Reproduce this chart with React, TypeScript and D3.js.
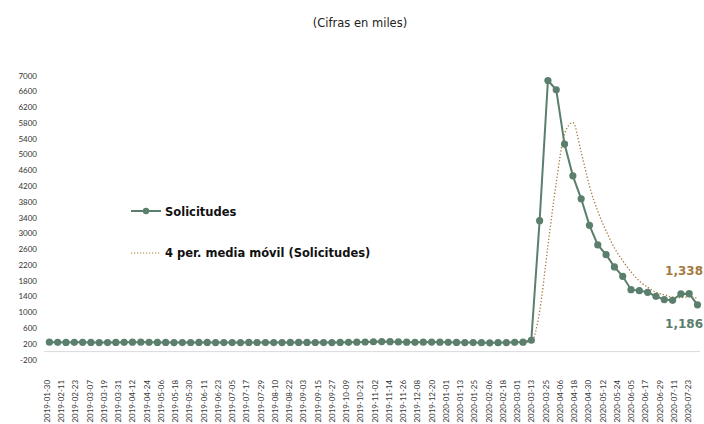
import React from 'react';
import * as d3 from 'd3';

const W = 704;
const H = 424;
const GREEN = '#5b7f6c';
const BROWN = '#a47a3f';
const FONT = '"Lato", "DejaVu Sans", sans-serif';
const WIDE = '"DejaVu Sans", sans-serif';

// weekly values, first week ending 2019-02-01
const START = new Date(2019, 1, 1);
const preValues = [
  238, 236, 234, 236, 235, 233, 230, 228, 232, 236, 240, 238, 236, 234, 232, 230,
  229, 231, 233, 232, 230, 229, 228, 230, 232, 231, 229, 228, 230, 232, 234, 233,
  231, 229, 230, 232, 236, 240, 244, 250, 255, 252, 246, 240, 236, 238, 242, 240,
  236, 232, 230, 228, 226, 224, 226, 230, 236, 240,
];
const postValues = [
  288, 3320, 6873, 6638, 5262, 4456, 3874, 3201, 2704, 2458, 2147, 1909, 1570, 1546,
  1503, 1402, 1318, 1301, 1463, 1470, 1186,
];
const values = [...preValues, ...postValues];
const dates = values.map((_, i) => d3.timeDay.offset(START, i * 7));

const yTicks = d3.range(-200, 7001, 400);
const tickStart = new Date(2019, 0, 30);
const xTicks = d3.range(0, 46).map((i) => d3.timeDay.offset(tickStart, i * 12));

const MA_LABEL = '1,338';
const LAST_LABEL = '1,186';

export default function App() {
  const x = d3
    .scaleTime()
    .domain([tickStart, new Date(2020, 6, 23)])
    .range([47, 688]);
  const y = d3.scaleLinear().domain([-200, 7000]).range([359.5, 75.5]);

  const pts: [Date, number][] = dates.map((d, i) => [d, values[i]]);
  const ma: [Date, number][] = [];
  for (let i = 3; i < values.length; i++) {
    ma.push([dates[i], d3.mean(values.slice(i - 3, i + 1)) as number]);
  }
  const straight = d3
    .line<[Date, number]>()
    .x((d) => x(d[0]))
    .y((d) => y(d[1]));
  const smooth = d3
    .line<[Date, number]>()
    .x((d) => x(d[0]))
    .y((d) => y(d[1]))
    .curve(d3.curveMonotoneX);
  const fmt = d3.timeFormat('%Y-%m-%d');

  return (
    <svg
      width={W}
      height={H}
      style={{ position: 'absolute', left: 0, top: 0, background: '#fff' }}
      fontFamily={FONT}
    >
      <text x={360} y={27} textAnchor="middle" fontSize={11.5} fill="#222" fontFamily={WIDE}>
        (Cifras en miles)
      </text>
      {yTicks.map((t) => (
        <text key={t} x={37} y={y(t) + 3} textAnchor="end" fontSize={8} fill="#333">
          {t}
        </text>
      ))}
      <line x1={44} x2={700} y1={y(0)} y2={y(0)} stroke="#d9d9d9" strokeWidth={1} />
      {xTicks.map((d) => (
        <text
          key={+d}
          transform={`translate(${x(d) + 3},380) rotate(-90)`}
          textAnchor="end"
          fontSize={7.9}
          fill="#333"
        >
          {fmt(d)}
        </text>
      ))}
      <path
        d={smooth(ma) || ''}
        fill="none"
        stroke={BROWN}
        strokeWidth={1.3}
        strokeDasharray="1.3 2"
      />
      <path d={straight(pts) || ''} fill="none" stroke={GREEN} strokeWidth={2} />
      {pts.map((p, i) => (
        <circle key={i} cx={x(p[0])} cy={y(p[1])} r={3.6} fill={GREEN} />
      ))}
      <g transform="translate(131,211)" fontFamily={WIDE}>
        <line x1={0} x2={30} y1={0} y2={0} stroke={GREEN} strokeWidth={2} />
        <circle cx={15} cy={0} r={3.2} fill={GREEN} />
        <text x={34} y={4.5} fontSize={11.5} fontWeight="bold" fill="#111">
          Solicitudes
        </text>
      </g>
      <g transform="translate(131,253)" fontFamily={WIDE}>
        <line x1={0} x2={30} y1={0} y2={0} stroke={BROWN} strokeWidth={1.2} strokeDasharray="1.2 1.8" />
        <text x={34} y={4} fontSize={11.5} fontWeight="bold" fill="#111">
          4 per. media móvil (Solicitudes)
        </text>
      </g>
      <text x={703} y={275} textAnchor="end" fontSize={12} fontWeight="bold" fill={BROWN} fontFamily={WIDE}>
        {MA_LABEL}
      </text>
      <text x={703} y={328} textAnchor="end" fontSize={12} fontWeight="bold" fill={GREEN} fontFamily={WIDE}>
        {LAST_LABEL}
      </text>
    </svg>
  );
}
